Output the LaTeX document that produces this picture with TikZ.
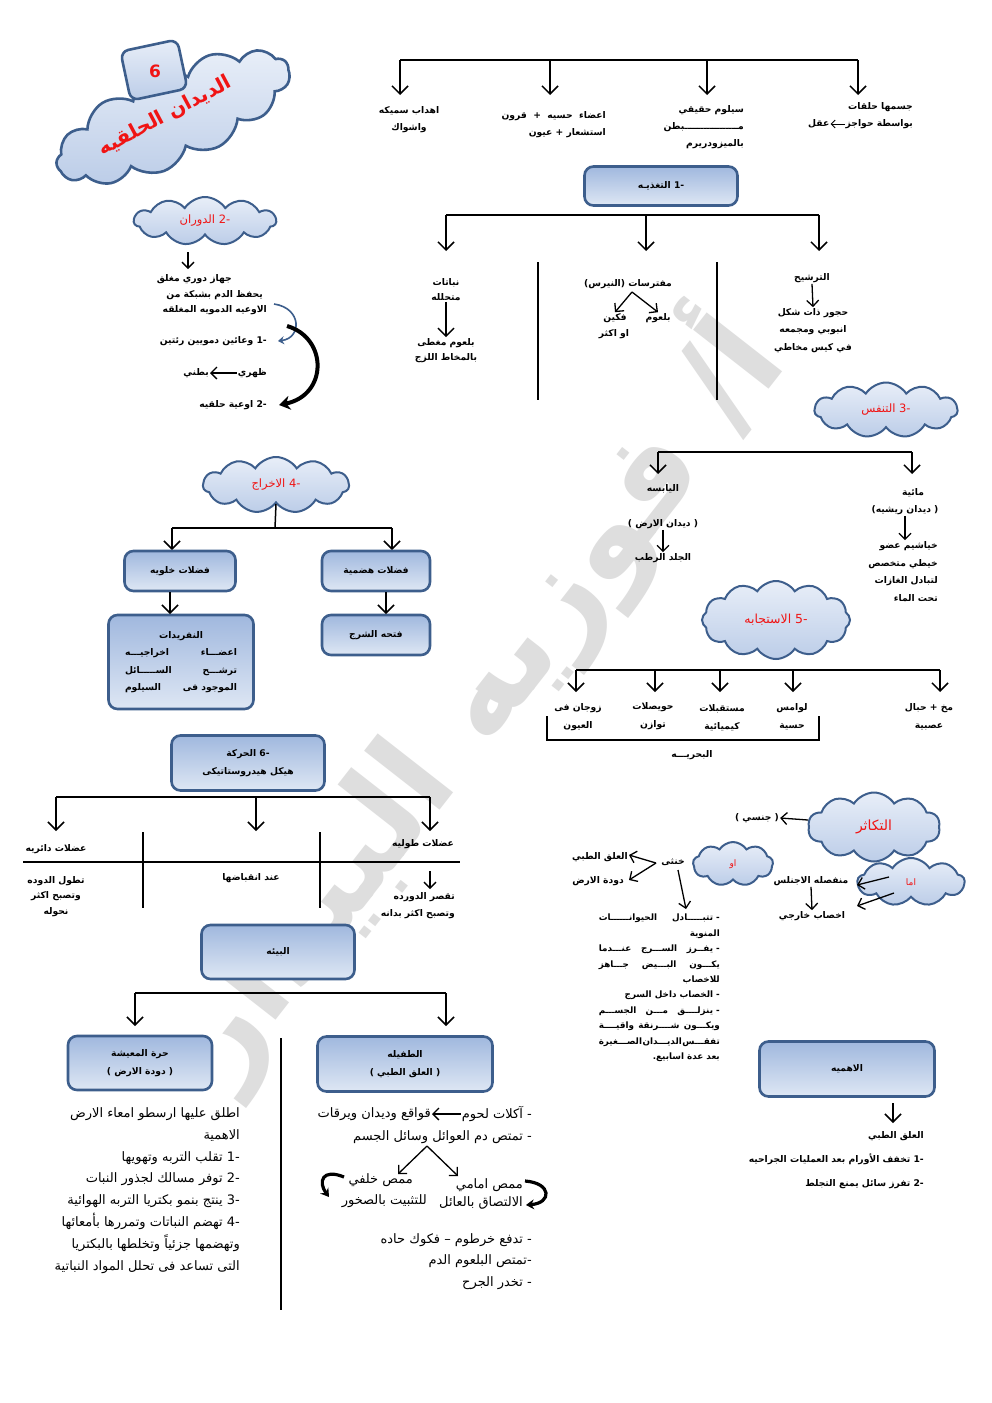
\documentclass[tikz,border=0pt]{standalone}
\usepackage{fontspec}
\usetikzlibrary{shapes.symbols,arrows.meta,calc}
\TeXXeTstate=1
\newfontfamily\arabicfont[Script=Arabic]{DejaVu Sans}
\newcommand\ara[1]{\beginR #1\endR}
\newcommand\jl[2][121pt]{\hbox to #1{\beginR #2\endR}}
\definecolor{bdr}{RGB}{61,94,140}
\definecolor{boxtop}{RGB}{160,184,222}
\definecolor{boxbot}{RGB}{222,231,244}
\definecolor{cltop}{RGB}{232,238,248}
\definecolor{clbot}{RGB}{188,205,232}
\definecolor{wm}{RGB}{222,222,222}
\definecolor{redt}{RGB}{240,20,20}
\tikzset{
  arr/.style={line width=1.5pt,-{Straight Barb[length=8pt,width=16pt,line width=1.5pt]}},
  arrs/.style={line width=1.3pt,-{Straight Barb[length=6pt,width=12pt,line width=1.3pt]}},
  ln/.style={line width=1.5pt},
  thn/.style={line width=1.1pt},
  tx/.style={font=\arabicfont\bfseries\fontsize{9.2}{#1}\selectfont, inner sep=1pt, align=center},
  tx/.default=16,
  txr/.style={tx=#1, align=right},
  txr/.default=16,
  bg/.style={font=\arabicfont\fontsize{13}{21.86}\selectfont, inner sep=1pt, align=right},
  boxst/.style={rounded corners=9pt, draw=bdr, line width=2.6pt, top color=boxtop, bottom color=boxbot},
  cl/.style={cloud, cloud puffs=#1, cloud puff arc=115, cloud ignores aspect, draw=bdr, line width=2pt,
    top color=cltop, bottom color=clbot, inner sep=0pt, text=redt, font=\arabicfont\fontsize{11.5}{13}\selectfont},
  cl/.default=11,
}
\begin{document}
\begin{tikzpicture}[x=1pt,y=-1pt]
\useasboundingbox (0,0) rectangle (992,1403);
\fill[white] (0,0) rectangle (992,1403);

% watermark
\node[rotate=52, text=wm, font=\arabicfont\bfseries\fontsize{126}{126}\selectfont, inner sep=0] (wmk) at (470,695) {\ara{أ/ فوزيه البيدار}};

% ---------- title ----------
\node[cl=13, line width=2.6pt, minimum width=252, minimum height=94, rotate=24] (ttl) at (173,117) {};
\node[rounded corners=8pt, draw=bdr, line width=2.6pt, top color=cltop, bottom color=clbot, minimum width=58, minimum height=50, rotate=12] (six) at (154,70) {};
\node[text=redt, font=\arabicfont\bfseries\fontsize{17}{17}\selectfont] (sixt) at (155,71) {6};
\node[rotate=28, text=redt, font=\arabicfont\bfseries\fontsize{20}{20}\selectfont] (ttlt) at (165,116) {\ara{الديدان الحلقيه}};

% ---------- 2 circulation ----------
\node[cl, minimum width=142, minimum height=48] (c2) at (205,221) {\ara{الدوران} -2};
\coordinate (c2a) at (188,252); \coordinate (c2b) at (188,269);
\draw[arrs] (c2a) -- (c2b);
\node[tx,anchor=east] (d1) at (233,279) {\ara{جهاز دوري مغلق}};
\node[tx,anchor=east] (d2) at (264,295) {\ara{يحفظ الدم بشبكة من}};
\node[tx,anchor=east] (d3) at (268,310) {\ara{الاوعيه الدمويه المغلقه}};
\node[tx,anchor=east] (d4) at (268,341) {\ara{وعائين دمويين رئتين} -1};
\node[tx,anchor=east] (d5) at (268,373) {\ara{ظهري}};
\node[tx,anchor=east] (d6) at (210,373) {\ara{بطني}};
\draw[arrs] (d5.west) -- (d6.east);
\node[tx,anchor=east] (d7) at (268,405) {\ara{اوعية حلقيه} -2};
\coordinate (cv1) at (274,304); \coordinate (cv2) at (278,341);
\draw[line width=1.6pt, draw=bdr, -{Stealth[length=6pt,width=8pt]}] (cv1) .. controls (302,308) and (302,338) .. (cv2);
\coordinate (cv3) at (287,326); \coordinate (cv4) at (279,405);
\draw[line width=4pt, -{Stealth[length=11pt,width=14pt]}] (cv3) .. controls (328,338) and (328,395) .. (cv4);

% ---------- top tree ----------
\coordinate (tL) at (400,60); \coordinate (tA) at (550,60); \coordinate (tB) at (707,60); \coordinate (tR) at (858,60);
\coordinate (tLe) at (400,95); \coordinate (tAe) at (550,95); \coordinate (tBe) at (707,95); \coordinate (tRe) at (858,95);
\draw[ln] (tL) -- (tR);
\draw[arr] (tL) -- (tLe); \draw[arr] (tA) -- (tAe); \draw[arr] (tB) -- (tBe); \draw[arr] (tR) -- (tRe);
\node[tx=17] (t1) at (409,119.5) {\ara{اهداب سميكه}\\\ara{واشواك}};
\node[txr=17, anchor=east] (t2) at (607,124.5) {\ara{اعضاء \ حسيه \ + \ قرون}\\\ara{استشعار + عيون}};
\node[txr=17, anchor=east] (t3) at (745,127) {\ara{سيلوم حقيقي}\\\ara{مـــــــــــــــــبطن}\\\ara{بالميزودريرم}};
\node[tx, anchor=east] (t4a) at (914,107) {\ara{جسمها حلقات}};
\node[tx, anchor=east] (t4b) at (914,124) {\ara{بواسطة حواجز}};
\node[tx, anchor=west] (t4c) at (807,124) {\ara{عقل}};
\draw[line width=1pt, -{Straight Barb[length=4pt,width=8pt,line width=1pt]}] (t4b.west) -- (t4c.east);

% ---------- 1 nutrition ----------
\node[boxst, tx, minimum width=153, minimum height=39] (b1) at (661,186) {\ara{التغذيـه} -1};
\coordinate (nL) at (446,215); \coordinate (nM) at (646,215); \coordinate (nR) at (819,215);
\coordinate (nLe) at (446,251); \coordinate (nMe) at (646,251); \coordinate (nRe) at (819,251);
\draw[ln] (nL) -- (nR);
\draw[arr] (nL) -- (nLe); \draw[arr] (nM) -- (nMe); \draw[arr] (nR) -- (nRe);
\coordinate (s1a) at (538,262); \coordinate (s1b) at (538,400);
\coordinate (s2a) at (717,262); \coordinate (s2b) at (717,400);
\draw[thn] (s1a) -- (s1b); \draw[thn] (s2a) -- (s2b);
\node[tx=15] (na) at (446,289.5) {\ara{نباتات}\\\ara{متحلله}};
\node[tx=15] (nb) at (446,350.5) {\ara{بلعوم مغطى}\\\ara{بالمخاط اللزج}};
\draw[arr] (na.south) -- (nb.north);
\node[tx] (nc) at (628,284) {\ara{مفترسات (النيرس)}};
\node[tx] (nd) at (615,318) {\ara{فكين}};
\node[tx] (ne) at (614,334) {\ara{او اكثر}};
\node[tx] (nf) at (658,318) {\ara{بلعوم}};
\coordinate (nc0) at (632,292);
\draw[arrs] (nc0) -- (nd.north); \draw[arrs] (nc0) -- (nf.north);
\node[tx] (ng) at (812,278) {\ara{الترشيح}};
\node[tx=17.5] (nh) at (813,330.5) {\ara{حجور ذات شكل}\\\ara{انبوبي ومجمعه}\\\ara{في كيس مخاطي}};
\draw[arrs] (ng.south) -- (nh.north);

% ---------- 3 respiration ----------
\node[cl, minimum width=143, minimum height=55] (c3) at (886,410) {\ara{التنفس} -3};
\coordinate (rL) at (658,452); \coordinate (rR) at (912,452);
\coordinate (rLe) at (658,474); \coordinate (rRe) at (912,474);
\draw[ln] (rL) -- (rR); \draw[arr] (rL) -- (rLe); \draw[arr] (rR) -- (rRe);
\node[tx] (r1) at (663,489) {\ara{اليابسه}};
\node[tx] (r2) at (663,524) {\ara{( ديدان الارض )}};
\node[tx] (r3) at (663,558) {\ara{الجلد الرطب}};
\draw[arrs] (r2.south) -- (r3.north);
\node[tx] (r4) at (913,493) {\ara{مائية}};
\node[tx] (r5) at (905,510) {\ara{( ديدان ريشيه)}};
\node[txr=17.7, anchor=east] (r6) at (939,571.5) {\ara{خياشيم عضو}\\\ara{خيطي متخصص}\\\ara{لتبادل الغازات}\\\ara{تحت الماء}};
\draw[arrs] (r5.south) -- (r6.north -| r5.south);

% ---------- 5 response ----------
\node[cl=12, minimum width=148, minimum height=78, font=\arabicfont\fontsize{12.5}{14}\selectfont] (c5) at (776,620) {\ara{الاستجابه} -5};
\coordinate (eL) at (576,670); \coordinate (e2) at (655,670); \coordinate (e3) at (720,670); \coordinate (e4) at (793,670); \coordinate (eR) at (940,670);
\coordinate (eLe) at (576,692); \coordinate (e2e) at (655,692); \coordinate (e3e) at (720,692); \coordinate (e4e) at (793,692); \coordinate (eRe) at (940,692);
\draw[ln] (eL) -- (eR);
\draw[arr] (eL) -- (eLe); \draw[arr] (e2) -- (e2e); \draw[arr] (e3) -- (e3e); \draw[arr] (e4) -- (e4e); \draw[arr] (eR) -- (eRe);
\node[tx=18] (e1t) at (578,717) {\ara{زوجان فى}\\\ara{العيون}};
\node[tx=18] (e2t) at (653,716) {\ara{حويصلات}\\\ara{توازن}};
\node[tx=18] (e3t) at (722,717.5) {\ara{مستقبلات}\\\ara{كيميائية}};
\node[tx=18] (e4t) at (792,716.5) {\ara{لوامس}\\\ara{حسية}};
\node[tx=18] (e5t) at (929,717) {\ara{مخ + حبال}\\\ara{عصبية}};
\coordinate (br1) at (547,716); \coordinate (br2) at (547,740); \coordinate (br3) at (819,740); \coordinate (br4) at (819,716);
\draw[thn] (br1) -- (br2) -- (br3) -- (br4);
\node[tx] (bh) at (692,755) {\ara{البحريـــه}};

% ---------- 4 excretion ----------
\node[cl, minimum width=146, minimum height=56] (c4) at (276,485) {\ara{الاخراج} -4};
\coordinate (x0) at (275,528); \coordinate (xL) at (172,528); \coordinate (xR) at (392,528);
\coordinate (xLe) at (172,550); \coordinate (xRe) at (392,550);
\draw[ln] (c4.south) -- (x0); \draw[ln] (xL) -- (xR);
\draw[arr] (xL) -- (xLe); \draw[arr] (xR) -- (xRe);
\node[boxst, tx, minimum width=111, minimum height=40] (bx1) at (180,571) {\ara{فضلات خلويه}};
\node[boxst, tx, minimum width=108, minimum height=40] (bx2) at (376,571) {\ara{فضلات هضمية}};
\node[boxst, tx=17.3, minimum width=145, minimum height=94] (bx3) at (181,662) {\ara{النفريدات}\\\jl[112pt]{اعضـــاء\hfill اخراجيـــه}\\\jl[112pt]{ترشـــح\hfill الســـــائل}\\\jl[112pt]{الموجود فى\hfill السيلوم}};
\node[boxst, tx, minimum width=108, minimum height=40] (bx4) at (376,635) {\ara{فتحه الشرج}};
\coordinate (x1a) at (170,592); \coordinate (x1b) at (170,614);
\coordinate (x2a) at (386,592); \coordinate (x2b) at (386,614);
\draw[arr] (x1a) -- (x1b); \draw[arr] (x2a) -- (x2b);

% ---------- 6 movement ----------
\node[boxst, tx=18, minimum width=153, minimum height=55] (b6) at (248,763) {\ara{الحركة} -6\\\ara{هيكل هيدروستاتيكى}};
\coordinate (mL) at (56,797); \coordinate (mM) at (256,797); \coordinate (mR) at (430,797);
\coordinate (mLe) at (56,831); \coordinate (mMe) at (256,831); \coordinate (mRe) at (430,831);
\draw[ln] (mL) -- (mR);
\draw[arr] (mL) -- (mLe); \draw[arr] (mM) -- (mMe); \draw[arr] (mR) -- (mRe);
\coordinate (ms1) at (143,832); \coordinate (ms1b) at (143,908);
\coordinate (ms2) at (320,832); \coordinate (ms2b) at (320,908);
\coordinate (mh1) at (23,862); \coordinate (mh2) at (460,862);
\draw[thn] (ms1) -- (ms1b); \draw[thn] (ms2) -- (ms2b); \draw[thn] (mh1) -- (mh2);
\node[tx] (m1) at (56,849) {\ara{عضلات دائريه}};
\node[tx] (m2) at (423,844) {\ara{عضلات طوليه}};
\node[tx] (m3) at (251,878) {\ara{عند انقباضها}};
\node[tx=15.5] (m4) at (56,896.5) {\ara{تطول الدوده}\\\ara{وتصبح اكثر}\\\ara{نحوله}};
\node[txr=17, anchor=east] (m5) at (456,905.5) {\ara{تقصر الدورده}\\\ara{وتصبح اكثر بدانه}};
\coordinate (m5a) at (430,871); \coordinate (m5b) at (430,889);
\draw[arrs] (m5a) -- (m5b);

% ---------- environment ----------
\node[boxst, tx, minimum width=153, minimum height=54] (b7) at (278,952) {\ara{البيئه}};
\coordinate (vL) at (135,993); \coordinate (vR) at (446,993);
\coordinate (vLe) at (135,1026); \coordinate (vRe) at (446,1026);
\draw[ln] (vL) -- (vR); \draw[arr] (vL) -- (vLe); \draw[arr] (vR) -- (vRe);
\node[boxst, tx=18, minimum width=144, minimum height=54] (b8) at (140,1063) {\ara{حرة المعيشة}\\\ara{( دودة الارض )}};
\node[boxst, tx=18, minimum width=175, minimum height=55] (b8b) at (405,1064) {\ara{الطفيله}\\\ara{( العلق الطبي )}};
\coordinate (vs1) at (281,1038); \coordinate (vs2) at (281,1310);
\draw[thn] (vs1) -- (vs2);
\node[bg, anchor=east] (lt) at (241,1190.5) {\ara{اطلق عليها ارسطو امعاء الارض}\\
\ara{الاهمية}\\
\ara{تقلب التربه وتهويها} -1\\
\ara{توفر مسالك لجذور النبات} -2\\
\ara{ينتج بنمو بكتريا التربه الهوائية} -3\\
\ara{تهضم النباتات وتمررها بأمعائها} -4\\
\ara{وتهضمها جزئياً وتخلطها بالبكتريا}\\
\ara{التى تساعد فى تحلل المواد النباتية}};
\node[bg, anchor=east] (p1) at (533,1114) {\ara{- آكلات لحوم}};
\node[bg, anchor=east] (p2) at (432,1114) {\ara{قواقع وديدان ويرقات}};
\draw[arrs] (p1.west) -- (p2.east);
\node[bg, anchor=east] (p3) at (533,1137) {\ara{- تمتص دم العوائل وسائل الجسم}};
\node[bg, align=right, anchor=east, font=\arabicfont\fontsize{13}{18.5}\selectfont] (p4) at (524,1194) {\ara{ممص امامي}\\\ara{الالتصاق بالعائل}};
\node[bg, anchor=east] (p5) at (414,1180) {\ara{ممص خلفي}};
\node[bg, anchor=east] (p6) at (428,1201) {\ara{للتثبيت بالصخور}};
\coordinate (pp) at (427,1146); \coordinate (pl) at (398,1174); \coordinate (pr) at (458,1176);
\draw[arrs] (pp) -- (pl); \draw[arrs] (pp) -- (pr);
\coordinate (q1) at (525,1181); \coordinate (q2) at (526,1205);
\draw[line width=3.2pt, -{Stealth[length=8pt,width=10pt]}] (q1) .. controls (552,1183) and (552,1203) .. (q2);
\coordinate (q3) at (344,1177); \coordinate (q4) at (329,1197);
\draw[line width=3.2pt, -{Stealth[length=8pt,width=10pt]}] (q3) .. controls (322,1168) and (318,1182) .. (q4);
\node[bg, anchor=east] (p7) at (533,1240) {\ara{- تدفع خرطوم – فكوك حاده}};
\node[bg, anchor=east] (p8) at (533,1261) {\ara{-تمتص البلعوم الدم}};
\node[bg, anchor=east] (p9) at (533,1283) {\ara{- تخدر الجرح}};

% ---------- reproduction ----------
\node[cl=10, minimum width=132, minimum height=69, font=\arabicfont\fontsize{14}{16}\selectfont] (c8) at (874,827) {\ara{التكاثر}};
\node[tx] (j1) at (757,818) {\ara{( جنسي )}};
\coordinate (j0) at (808,820);
\draw[arrs] (j0) -- (j1.east);
\node[cl=9, minimum width=80, minimum height=44, font=\arabicfont\fontsize{9}{11}\selectfont] (c9) at (733,864) {\ara{او}};
\node[tx] (k) at (673,862) {\ara{خنثى}};
\node[tx] (k1) at (600,857) {\ara{العلق الطبي}};
\node[tx] (k2) at (598,881) {\ara{دودة الارض}};
\coordinate (k0) at (656,863); \coordinate (k1e) at (629,855); \coordinate (k2e) at (629,880);
\draw[arrs] (k0) -- (k1e); \draw[arrs] (k0) -- (k2e);
\coordinate (k3) at (678,870); \coordinate (k3e) at (686,909);
\draw[arrs] (k3) -- (k3e);
\node[anchor=north east, inner sep=0, align=right, font=\arabicfont\bfseries\fontsize{8.8}{15.4}\selectfont] (blk) at (720,914) {%
\jl{-\ تتبـــــادل\hfill الحيوانــــــات}\\
\jl{المنوية\hfill}\\
\jl{-\ يفــرز\hfill الســـرج\hfill عنـــدما}\\
\jl{يكـــون\hfill البـــيض\hfill جـــاهز}\\
\jl{للاخصاب\hfill}\\
\jl{- الخصاب داخل السرج\hfill}\\
\jl{-\ ينزلــــق\hfill مـــن\hfill الجســـم}\\
\jl{ويكـــون\hfill شــــرنقة\hfill واقيــــة}\\
\jl{تفقـــس\hfill الديـــدان\hfill الصـــغيرة}\\
\jl{بعد عدة اسابيع.\hfill}};
\node[cl=9, minimum width=107, minimum height=48, font=\arabicfont\fontsize{9}{11}\selectfont] (c10) at (911,882) {\ara{اما}};
\node[tx] (o1) at (811,881) {\ara{منفصله الاجنلس}};
\node[tx] (o2) at (812,916) {\ara{اخصاب خارجي}};
\coordinate (o3) at (889,877); \coordinate (o3e) at (857,885);
\coordinate (o4) at (894,893); \coordinate (o4e) at (857,906);
\draw[arrs] (o3) -- (o3e); \draw[arrs] (o4) -- (o4e);
\draw[arrs] (o1.south) -- (o2.north);

% ---------- importance ----------
\node[boxst, tx, minimum width=175, minimum height=55] (b9) at (847,1069) {\ara{الاهميه}};
\coordinate (i0) at (893,1103); \coordinate (i1) at (893,1123);
\draw[arr] (i0) -- (i1);
\node[tx, anchor=east] (n1) at (925,1136) {\ara{العلق الطبي}};
\node[tx, anchor=east] (n2) at (925,1159) {\ara{تخفف الأورام بعد العمليات الجراحيه} -1};
\node[tx, anchor=east] (n3) at (925,1184) {\ara{تفرز سائل يمنع التجلط} -2};
\end{tikzpicture}
\end{document}
